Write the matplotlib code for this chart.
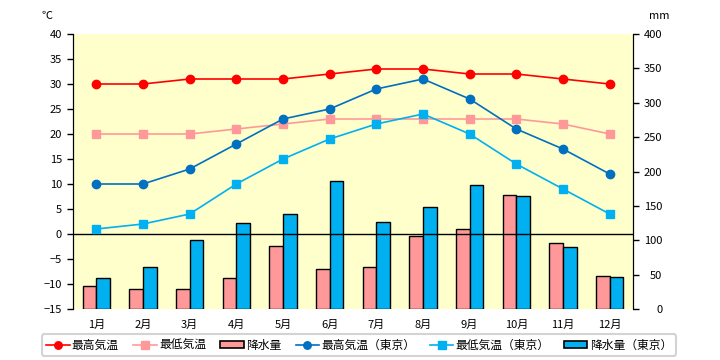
import matplotlib
matplotlib.use("Agg")
import matplotlib.pyplot as plt
import numpy as np
from matplotlib.patches import Rectangle

plt.rcParams['font.family'] = ['Noto Sans CJK JP', 'DejaVu Sans']

months = ['1月', '2月', '3月', '4月', '5月', '6月', '7月', '8月', '9月', '10月', '11月', '12月']
max_temp = [30, 30, 31, 31, 31, 32, 33, 33, 32, 32, 31, 30]
min_temp = [20, 20, 20, 21, 22, 23, 23, 23, 23, 23, 22, 20]
precip = [33, 29, 29, 45, 91, 58, 61, 106, 117, 166, 96, 48]
max_temp_tokyo = [10, 10, 13, 18, 23, 25, 29, 31, 27, 21, 17, 12]
min_temp_tokyo = [1, 2, 4, 10, 15, 19, 22, 24, 20, 14, 9, 4]
precip_tokyo = [45, 61, 100, 125, 138, 186, 126, 148, 180, 164, 90, 46]

labels = ['最高気温', '最低気温', '降水量', '最高気温（東京）', '最低気温（東京）', '降水量（東京）']

c_red = '#FF0000'
c_pink = '#FF9999'
c_blue = '#0070C0'
c_cyan = '#00B0F0'

fig = plt.figure(figsize=(7.2, 3.6), dpi=100)
ax = fig.add_axes([73/720, 51/360, 560/720, 275/360])
ax2 = ax.twinx()

x = np.arange(len(months))
w = 0.29
ax.set_zorder(2)
ax.patch.set_visible(False)
ax2.set_zorder(1)
ax2.patch.set_visible(True)
ax2.patch.set_facecolor('#FFFFCC')

b1 = ax2.bar(x - w/2, precip, w, color=c_pink, edgecolor='black', linewidth=1)
b2 = ax2.bar(x + w/2, precip_tokyo, w, color=c_cyan, edgecolor='black', linewidth=1)
ax2.set_ylim(0, 400)
ax2.set_yticks(np.arange(0, 401, 50))

ax.axhline(0, color='black', linewidth=1, zorder=1)
l1, = ax.plot(x, max_temp, color=c_red, marker='o', markersize=6, linewidth=1.2)
l2, = ax.plot(x, min_temp, color=c_pink, marker='s', markersize=6, linewidth=1.2)
l4, = ax.plot(x, max_temp_tokyo, color=c_blue, marker='o', markersize=6, linewidth=1.2)
l5, = ax.plot(x, min_temp_tokyo, color=c_cyan, marker='s', markersize=6, linewidth=1.2)
ax.set_ylim(-15, 40)
ax.set_yticks(np.arange(-15, 41, 5))
ax.set_xlim(-0.5, 11.5)
ax.set_xticks(x)
ax.set_xticklabels(months)

for a in (ax, ax2):
    a.spines['top'].set_visible(False)
    a.spines['bottom'].set_visible(False)
    a.spines['left'].set_color('black')
    a.spines['right'].set_color('black')
    a.tick_params(axis='both', labelsize=8, length=4, width=1, colors='black')
ax.tick_params(axis='x', length=0, pad=8)
ax2.tick_params(axis='y', pad=17)
for t in ax2.get_yticklabels():
    t.set_horizontalalignment('right')
ax.tick_params(axis='y', pad=4)

fig.text(47/720, 1 - 16/360, '℃', fontsize=8, ha='center', va='center')
fig.text(659/720, 1 - 16/360, 'mm', fontsize=8, ha='center', va='center')

# legend
bar_h1 = Rectangle((0, 0), 1, 1, facecolor=c_pink, edgecolor='black', linewidth=1.2)
bar_h2 = Rectangle((0, 0), 1, 1, facecolor=c_cyan, edgecolor='black', linewidth=1.2)
leg = fig.legend([l1, l2, bar_h1, l4, l5, bar_h2], labels, ncol=6,
                 loc='center', bbox_to_anchor=(359/720, 1 - 345/360),
                 fontsize=8.5, frameon=True, fancybox=True, edgecolor='#C8C8C8',
                 handlelength=2.0, handleheight=0.5, handletextpad=0.2, columnspacing=1.2,
                 borderpad=0.35, markerscale=0.9)
leg.get_frame().set_linewidth(1.5)

fig.savefig('out.png', dpi=100)
